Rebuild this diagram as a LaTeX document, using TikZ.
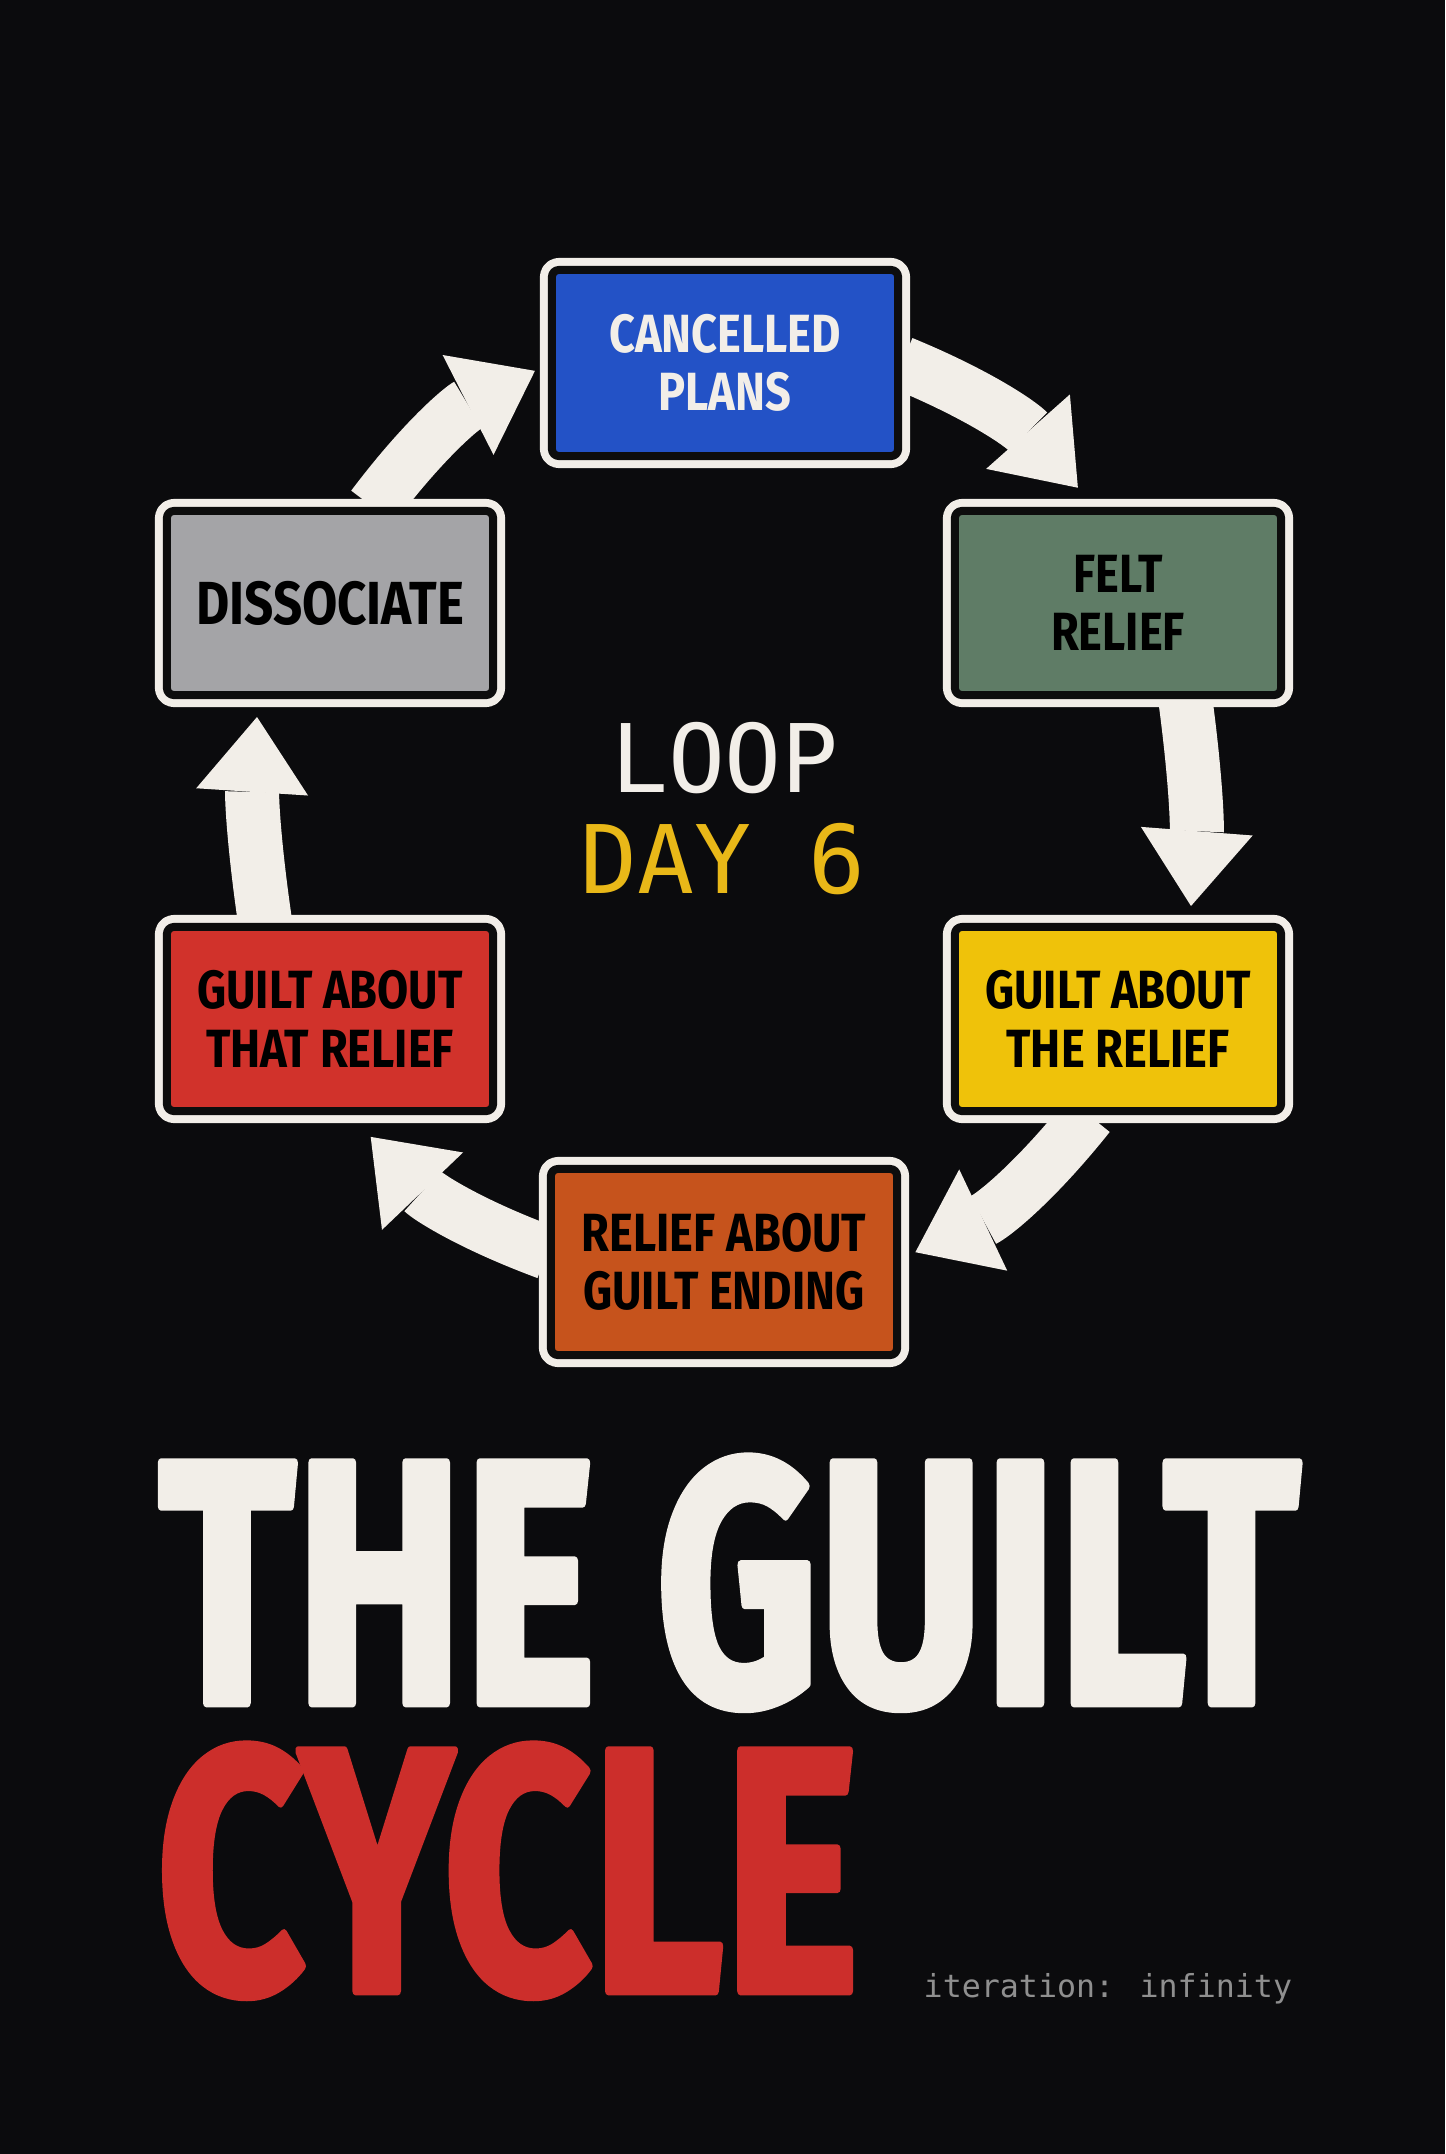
\documentclass[tikz,border=0pt]{standalone}
\usepackage{fontspec}
\usepackage{graphicx}
\usetikzlibrary{arrows.meta,calc}
\newfontfamily\signfont[FakeStretch=0.84]{Fira Sans}
\newfontfamily\titlefont[FakeBold=2.5]{Fira Sans}
\newfontfamily\codefont{DejaVu Sans Mono}
\definecolor{shirt}{HTML}{0B0B0D}
\definecolor{offwhite}{HTML}{F2EEE8}
\definecolor{signblack}{HTML}{0D0D0D}
\definecolor{planblue}{HTML}{2352C6}
\definecolor{feltgreen}{HTML}{5F7C66}
\definecolor{guiltyellow}{HTML}{EFC20A}
\definecolor{endorange}{HTML}{C6531C}
\definecolor{thatred}{HTML}{D1322B}
\definecolor{dissgray}{HTML}{A4A4A7}
\definecolor{titlered}{HTML}{CC2E2B}
\definecolor{dayyellow}{HTML}{E9B818}
\definecolor{itergray}{HTML}{8F8F8F}
\pgfdeclarelayer{back}
\pgfsetlayers{back,main}
\tikzset{
  sign/.style={draw=signblack, line width=0.08cm, rounded corners=0.07cm,
    preaction={draw=offwhite, line width=0.24cm},
    inner sep=0pt, align=center, text=black,
    font=\signfont\bfseries\fontsize{15.3}{16.6}\selectfont},
  wide/.style={minimum width=3.46cm, minimum height=1.86cm},
  narrow/.style={minimum width=3.26cm, minimum height=1.84cm},
  cycarrow/.style={draw=offwhite, line width=0.54cm, line cap=butt,
    -{Triangle[length=0.75cm, width=1.12cm, line width=0pt]}},
  hubtext/.style={font=\codefont\fontsize{26.9}{28.7}\selectfont, anchor=base, inner sep=0pt}
}
\begin{document}
\begin{tikzpicture}[x=0.01cm, y=-0.01cm, line join=round]
  \def\rad{480} % vong tron mui ten
  \begin{pgfonlayer}{back}
    \fill[shirt] (0,0) rectangle (1445,2154);
  \end{pgfonlayer}
  \useasboundingbox (0,0) rectangle (1445,2154);
  \coordinate (hub) at (724,812);

  \node[sign, wide, fill=planblue, text=offwhite] (plans) at (725,363) {CANCELLED\\PLANS};
  \node[sign, narrow, fill=feltgreen] (felt) at (1118,603) {FELT\\RELIEF};
  \node[sign, narrow, fill=guiltyellow] (guilt) at (1118,1019) {GUILT ABOUT\\THE RELIEF};
  \node[sign, wide, fill=endorange] (ending) at (724,1262) {RELIEF ABOUT\\GUILT ENDING};
  \node[sign, narrow, fill=thatred] (thatrel) at (330,1019) {GUILT ABOUT\\THAT RELIEF};
  \node[sign, narrow, fill=dissgray, font=\signfont\bfseries\fontsize{17.3}{18}\selectfont] (dissoc) at (330,603) {DISSOCIATE};

  \node[hubtext, text=offwhite] (looplbl) at (725,792) {LOOP};
  \node[hubtext, text=dayyellow] (daylbl) at (723,893) {DAY 6};

  % dau mui ten
  \coordinate (tip1) at ($(hub)+(317.5:\rad)$);
  \coordinate (tip2) at (1191,906);
  \coordinate (tip3) at ($(hub)+(66.5:\rad)$);
  \coordinate (tip4) at ($(hub)+(137.4:\rad)$);
  \coordinate (tip5) at (257,717);
  \coordinate (tip6) at ($(hub)+(246.8:\rad)$);
  \begin{pgfonlayer}{back}
    \draw[cycarrow] (plans.east) to[bend left=13] (tip1);
    \draw[cycarrow] (felt.-55) to[bend left=6] (tip2);
    \draw[cycarrow] (guilt.-107) to[bend left=13] (tip3);
    \draw[cycarrow] (ending.177) to[bend left=13] (tip4);
    \draw[cycarrow] (thatrel.124) to[bend left=6] (tip5);
    \draw[cycarrow] (dissoc.66) to[bend left=13] (tip6);
  \end{pgfonlayer}

  \node[anchor=north west, inner sep=0pt, text=offwhite] (title) at (158,1456)
    {\titlefont\bfseries\fontsize{40}{40}\selectfont\resizebox*{11.40cm}{2.52cm}{THE GUILT}};
  \node[anchor=north west, inner sep=0pt, text=titlered] (cycle) at (156,1744)
    {\titlefont\bfseries\fontsize{40}{40}\selectfont\resizebox*{7.02cm}{2.52cm}{CYCLE}};
  \node[anchor=base west, inner sep=0pt, text=itergray,
    font=\codefont\fontsize{9.0}{11}\selectfont] (iter) at (923,1997) {iteration: infinity};
\end{tikzpicture}
\end{document}
